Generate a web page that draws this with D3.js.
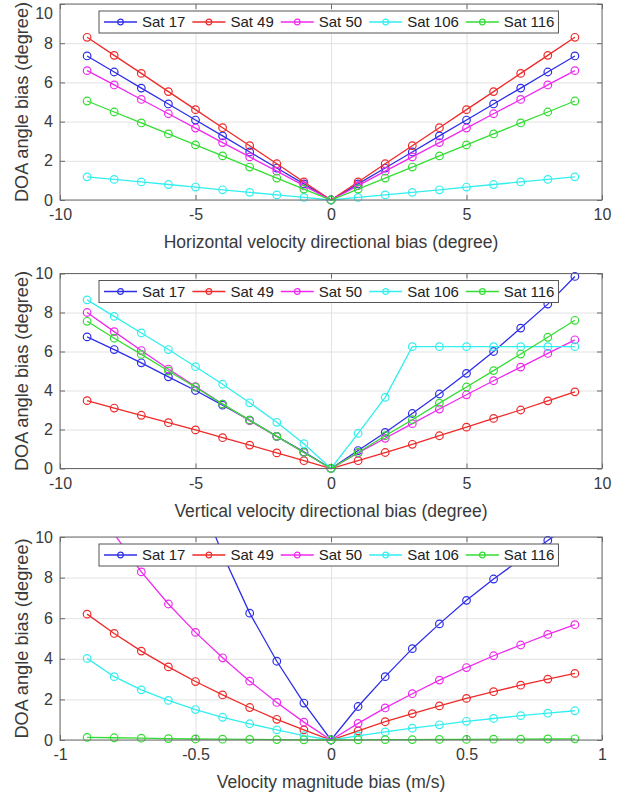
<!DOCTYPE html>
<html><head><meta charset="utf-8">
<script src="https://cdn.jsdelivr.net/npm/d3@7"></script>
<style>
body{margin:0;background:#fff;}
svg{display:block;font-family:"Liberation Sans",Arial,sans-serif;}
</style></head>
<body>
<svg id="chart" width="633" height="793"></svg>
<script>
// ---------- data ----------
const seriesNames = ["Sat 17", "Sat 49", "Sat 50", "Sat 106", "Sat 116"];
const seriesColors = ["#2e2ee8", "#ee2a2a", "#ee2aee", "#33eeee", "#33dd33"];

const degX = [-9,-8,-7,-6,-5,-4,-3,-2,-1,0,1,2,3,4,5,6,7,8,9];
const magX = [-0.9,-0.8,-0.7,-0.6,-0.5,-0.4,-0.3,-0.2,-0.1,0,0.1,0.2,0.3,0.4,0.5,0.6,0.7,0.8,0.9];

// Panel 1: horizontal velocity directional bias
const h17  = [7.35,6.53,5.71,4.90,4.08,3.27,2.45,1.63,0.82,0,0.82,1.63,2.45,3.27,4.08,4.90,5.71,6.53,7.35];
const h49  = [8.30,7.38,6.46,5.53,4.61,3.69,2.77,1.85,0.92,0,0.92,1.85,2.77,3.69,4.61,5.53,6.46,7.38,8.30];
const h50  = [6.60,5.87,5.13,4.40,3.67,2.93,2.20,1.47,0.73,0,0.73,1.47,2.20,2.93,3.67,4.40,5.13,5.87,6.60];
const h106 = [1.18,1.05,0.92,0.79,0.66,0.52,0.39,0.26,0.13,0,0.13,0.26,0.39,0.52,0.66,0.79,0.92,1.05,1.18];
const h116 = [5.05,4.49,3.93,3.37,2.81,2.25,1.68,1.12,0.56,0,0.56,1.12,1.68,2.25,2.81,3.37,3.93,4.49,5.05];

// Panel 2: vertical velocity directional bias
const v17  = [6.75,6.10,5.42,4.70,4.00,3.25,2.48,1.65,0.85,0,0.92,1.85,2.82,3.82,4.88,6.00,7.20,8.43,9.85];
const v49  = [3.48,3.10,2.73,2.35,1.98,1.58,1.20,0.80,0.40,0,0.40,0.82,1.24,1.68,2.12,2.57,3.00,3.47,3.93];
const v50  = [8.00,7.02,6.05,5.10,4.20,3.30,2.45,1.65,0.82,0,0.80,1.55,2.30,3.05,3.78,4.50,5.20,5.90,6.60];
const v106 = [8.65,7.80,6.95,6.10,5.22,4.32,3.37,2.37,1.27,0,1.80,3.65,6.25,6.25,6.25,6.25,6.25,6.25,6.25];
const v116 = [7.55,6.68,5.85,5.00,4.17,3.30,2.48,1.65,0.82,0,0.82,1.68,2.50,3.35,4.18,5.02,5.87,6.73,7.60];

// Panel 3: velocity magnitude bias
const m17  = [26.0,22.5,19.2,15.8,12.5,9.15,6.25,3.88,1.82,0,1.65,3.12,4.50,5.72,6.88,7.93,8.90,9.83,10.75];
const m49  = [6.20,5.25,4.38,3.60,2.88,2.22,1.60,1.02,0.50,0,0.45,0.90,1.30,1.68,2.05,2.38,2.70,3.00,3.28];
const m50  = [12.3,10.15,8.28,6.70,5.30,4.05,2.90,1.85,0.88,0,0.82,1.58,2.28,2.95,3.57,4.15,4.68,5.20,5.68];
const m106 = [4.02,3.12,2.47,1.95,1.50,1.12,0.80,0.50,0.22,0,0.20,0.40,0.58,0.75,0.92,1.06,1.20,1.32,1.44];
const m116 = [0.13,0.11,0.09,0.07,0.05,0.04,0.03,0.02,0.01,0,0.01,0.02,0.02,0.03,0.03,0.04,0.04,0.05,0.06];

const degTicks = [-10,-5,0,5,10];
const magTicks = [-1,-0.5,0,0.5,1];
const yTicks = [0,2,4,6,8,10];

const yLabel = "DOA angle bias (degree)";
const panels = [
  {x: degX, ys: [h17,h49,h50,h106,h116], xd:[-10,10], xt: degTicks, xlabel:"Horizontal velocity directional bias (degree)", top:4, bottom:200},
  {x: degX, ys: [v17,v49,v50,v106,v116], xd:[-10,10], xt: degTicks, xlabel:"Vertical velocity directional bias (degree)", top:273.5, bottom:468.5},
  {x: magX, ys: [m17,m49,m50,m106,m116], xd:[-1,1], xt: magTicks, xlabel:"Velocity magnitude bias (m/s)", top:537, bottom:740}
];

// ---------- drawing ----------
const svg = d3.select("#chart");
const left = 60, right = 602;
const textColor = "#3a3a3a", axisColor = "#6a6a6a", gridColor = "#e2e2e2";
const fmt = d => String(d).replace("\u2212","-");

panels.forEach((p, pi) => {
  const x = d3.scaleLinear().domain(p.xd).range([left, right]);
  const y = d3.scaleLinear().domain([0,10]).range([p.bottom, p.top]);
  const h = p.bottom - p.top, w = right - left;
  const g = svg.append("g");

  // grid
  g.append("g").attr("transform", `translate(0,${p.bottom})`)
    .call(d3.axisBottom(x).tickValues(p.xt).tickSize(-h).tickFormat(""))
    .call(s => { s.select(".domain").remove(); s.selectAll("line").attr("stroke", gridColor).attr("stroke-width",1); });
  g.append("g").attr("transform", `translate(${left},0)`)
    .call(d3.axisLeft(y).tickValues(yTicks).tickSize(-w).tickFormat(""))
    .call(s => { s.select(".domain").remove(); s.selectAll("line").attr("stroke", gridColor).attr("stroke-width",1); });

  // clip
  const cid = "clip" + pi;
  svg.append("clipPath").attr("id", cid).append("rect")
    .attr("x", left).attr("y", p.top).attr("width", w).attr("height", h + 1);

  // series
  p.ys.forEach((vals, si) => {
    const pts = p.x.map((xv, i) => [xv, vals[i]]);
    g.append("path").datum(pts)
      .attr("clip-path", `url(#${cid})`)
      .attr("fill","none").attr("stroke", seriesColors[si]).attr("stroke-width", 1.3)
      .attr("d", d3.line().x(d => x(d[0])).y(d => y(d[1])));
    g.append("g").selectAll("circle").data(pts.filter(d => d[1] >= 0 && d[1] <= 10)).join("circle")
      .attr("cx", d => x(d[0])).attr("cy", d => y(d[1])).attr("r", 3.8)
      .attr("fill","none").attr("stroke", seriesColors[si]).attr("stroke-width", 1.2);
  });

  // axes (ticks inward on all four sides)
  const styleAx = s => {
    s.select(".domain").remove();
    s.selectAll(".tick line").attr("stroke", axisColor);
    s.selectAll(".tick text").attr("fill", textColor).attr("font-size", 16)
      .attr("font-family", '"Liberation Sans",Arial,sans-serif');
  };
  g.append("g").attr("transform", `translate(0,${p.bottom})`)
    .call(d3.axisBottom(x).tickValues(p.xt).tickSize(-5).tickPadding(9).tickFormat(fmt)).call(styleAx);
  g.append("g").attr("transform", `translate(0,${p.top})`)
    .call(d3.axisTop(x).tickValues(p.xt).tickSize(-5).tickFormat("")).call(styleAx);
  const yAx = g.append("g").attr("transform", `translate(${left},0)`)
    .call(d3.axisLeft(y).tickValues(yTicks).tickSize(-5).tickPadding(7).tickFormat(fmt)).call(styleAx);
  if (pi === 0) {
    // keep the top label inside the page
    yAx.selectAll(".tick").filter(d => d === 10).select("text").attr("dy", "0.9em");
  }
  g.append("g").attr("transform", `translate(${right},0)`)
    .call(d3.axisRight(y).tickValues(yTicks).tickSize(-5).tickFormat("")).call(styleAx);

  g.append("rect").attr("x", left).attr("y", p.top).attr("width", w).attr("height", h)
    .attr("fill","none").attr("stroke", axisColor).attr("stroke-width", 1);

  // labels
  g.append("text").attr("x", (left + right) / 2).attr("y", p.bottom + 48)
    .attr("text-anchor","middle").attr("font-size", 17.5).attr("fill", textColor).text(p.xlabel);
  g.append("text").attr("transform", `translate(28,${(p.top + p.bottom) / 2}) rotate(-90)`)
    .attr("text-anchor","middle").attr("font-size", 18.2).attr("fill", textColor).text(yLabel);

  // legend
  const lg = g.append("g").attr("transform", `translate(99,${p.top + 7})`);
  const box = lg.append("rect").attr("x",0).attr("y",0).attr("height",22)
    .attr("fill","#fff").attr("stroke","#555").attr("stroke-width",1);
  let cx = 5;
  seriesNames.forEach((name, si) => {
    lg.append("line").attr("x1", cx).attr("x2", cx + 33).attr("y1", 11).attr("y2", 11)
      .attr("stroke", seriesColors[si]).attr("stroke-width", 1.3);
    lg.append("circle").attr("cx", cx + 16.5).attr("cy", 11).attr("r", 2.8)
      .attr("fill","none").attr("stroke", seriesColors[si]).attr("stroke-width", 1.2);
    const t = lg.append("text").attr("x", cx + 38).attr("y", 16.4).attr("font-size", 15)
      .attr("fill", "#222").text(name);
    const tw = t.node().getComputedTextLength();
    cx = cx + 38 + tw + (si < seriesNames.length - 1 ? 7 : 4);
  });
  box.attr("width", cx);
});
</script>
</body></html>
